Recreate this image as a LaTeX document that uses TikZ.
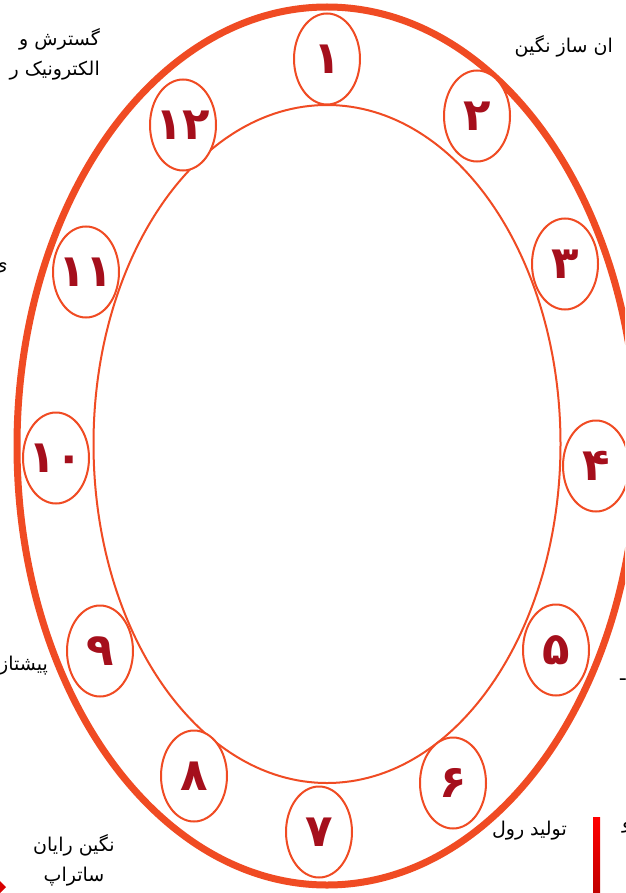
\documentclass[tikz,border=0pt]{standalone}
\usepackage{fontspec}
\usetikzlibrary{shapes.geometric}
\TeXXeTstate=1
\newfontfamily\fa[Script=Arabic]{DejaVu Sans}
\definecolor{ring}{HTML}{F04B23}
\definecolor{numred}{HTML}{A50F1C}
\definecolor{barred}{HTML}{FF0000}
\definecolor{bardark}{HTML}{C00000}
\begin{document}
\begin{tikzpicture}[x=1pt,y=-1pt,
  numel/.style={ellipse, draw=ring, line width=2pt, fill=white,
    minimum width=66pt, minimum height=91pt, inner sep=-20pt,
    text=numred, font=\fa\bfseries\fontsize{45}{45}\selectfont},
  bigring/.style={ellipse, draw=ring, inner sep=0pt},
  lbl/.style={font=\fa\fontsize{19}{30}\selectfont, text=black, inner sep=0pt, align=right},
  lblc/.style={font=\fa\fontsize{19}{30}\selectfont, text=black, inner sep=0pt, align=center}]
\useasboundingbox (0,0) rectangle (625,893);
\clip (0,0) rectangle (625,893);
\fill[white] (0,0) rectangle (625,893);
% rings
\node[bigring, line width=7pt, minimum width=620pt, minimum height=878pt] (outer) at (327,446) {};
\node[bigring, line width=2pt, minimum width=467pt, minimum height=678pt] (inner) at (327,444) {};
% numbered ellipses
\node[numel] (n1) at (327,59) {۱};
\node[numel] (n2) at (477,116) {۲};
\node[numel] (n3) at (565,264) {۳};
\node[numel] (n4) at (596,466) {۴};
\node[numel] (n5) at (556,650) {۵};
\node[numel] (n6) at (453,783) {۶};
\node[numel] (n7) at (319,832) {۷};
\node[numel] (n8) at (194,776) {۸};
\node[numel] (n9) at (100,651) {۹};
\node[numel] (n10) at (56,458) {۱۰};
\node[numel] (n11) at (86,272) {۱۱};
\node[numel] (n12) at (183,125) {۱۲};
% labels
\node[lbl, anchor=north east] (t1) at (100,28) {\beginR گسترش و\endR\\\beginR الکترونیک ر\endR};
\node[lbl, anchor=east] (t2) at (613,46) {\beginR ان ساز نگین\endR};
\node[lbl, anchor=east] (t3) at (8,268) {\beginR ی\endR};
\node[lbl, anchor=east] (t4) at (48,666) {\beginR پیشتاز\endR};
\node[lbl, anchor=west] (t5) at (620,680) {\beginR ـ\endR};
\node[lbl, anchor=east] (t6) at (567,831) {\beginR تولید رول\endR};
\node[lblc, anchor=north] (t7) at (74,834) {\beginR نگین رایان\endR\\\beginR ساتراپ\endR};
\node[lbl, anchor=west] (t8) at (622,828) {\beginR و\endR};
% red bar and corner mark
\shade[top color=barred, bottom color=bardark] (593,817) rectangle (600,893);
\fill[red!85!black] (0,881) -- (6,887) -- (0,893) -- (-6,887) -- cycle;
\end{tikzpicture}
\end{document}
